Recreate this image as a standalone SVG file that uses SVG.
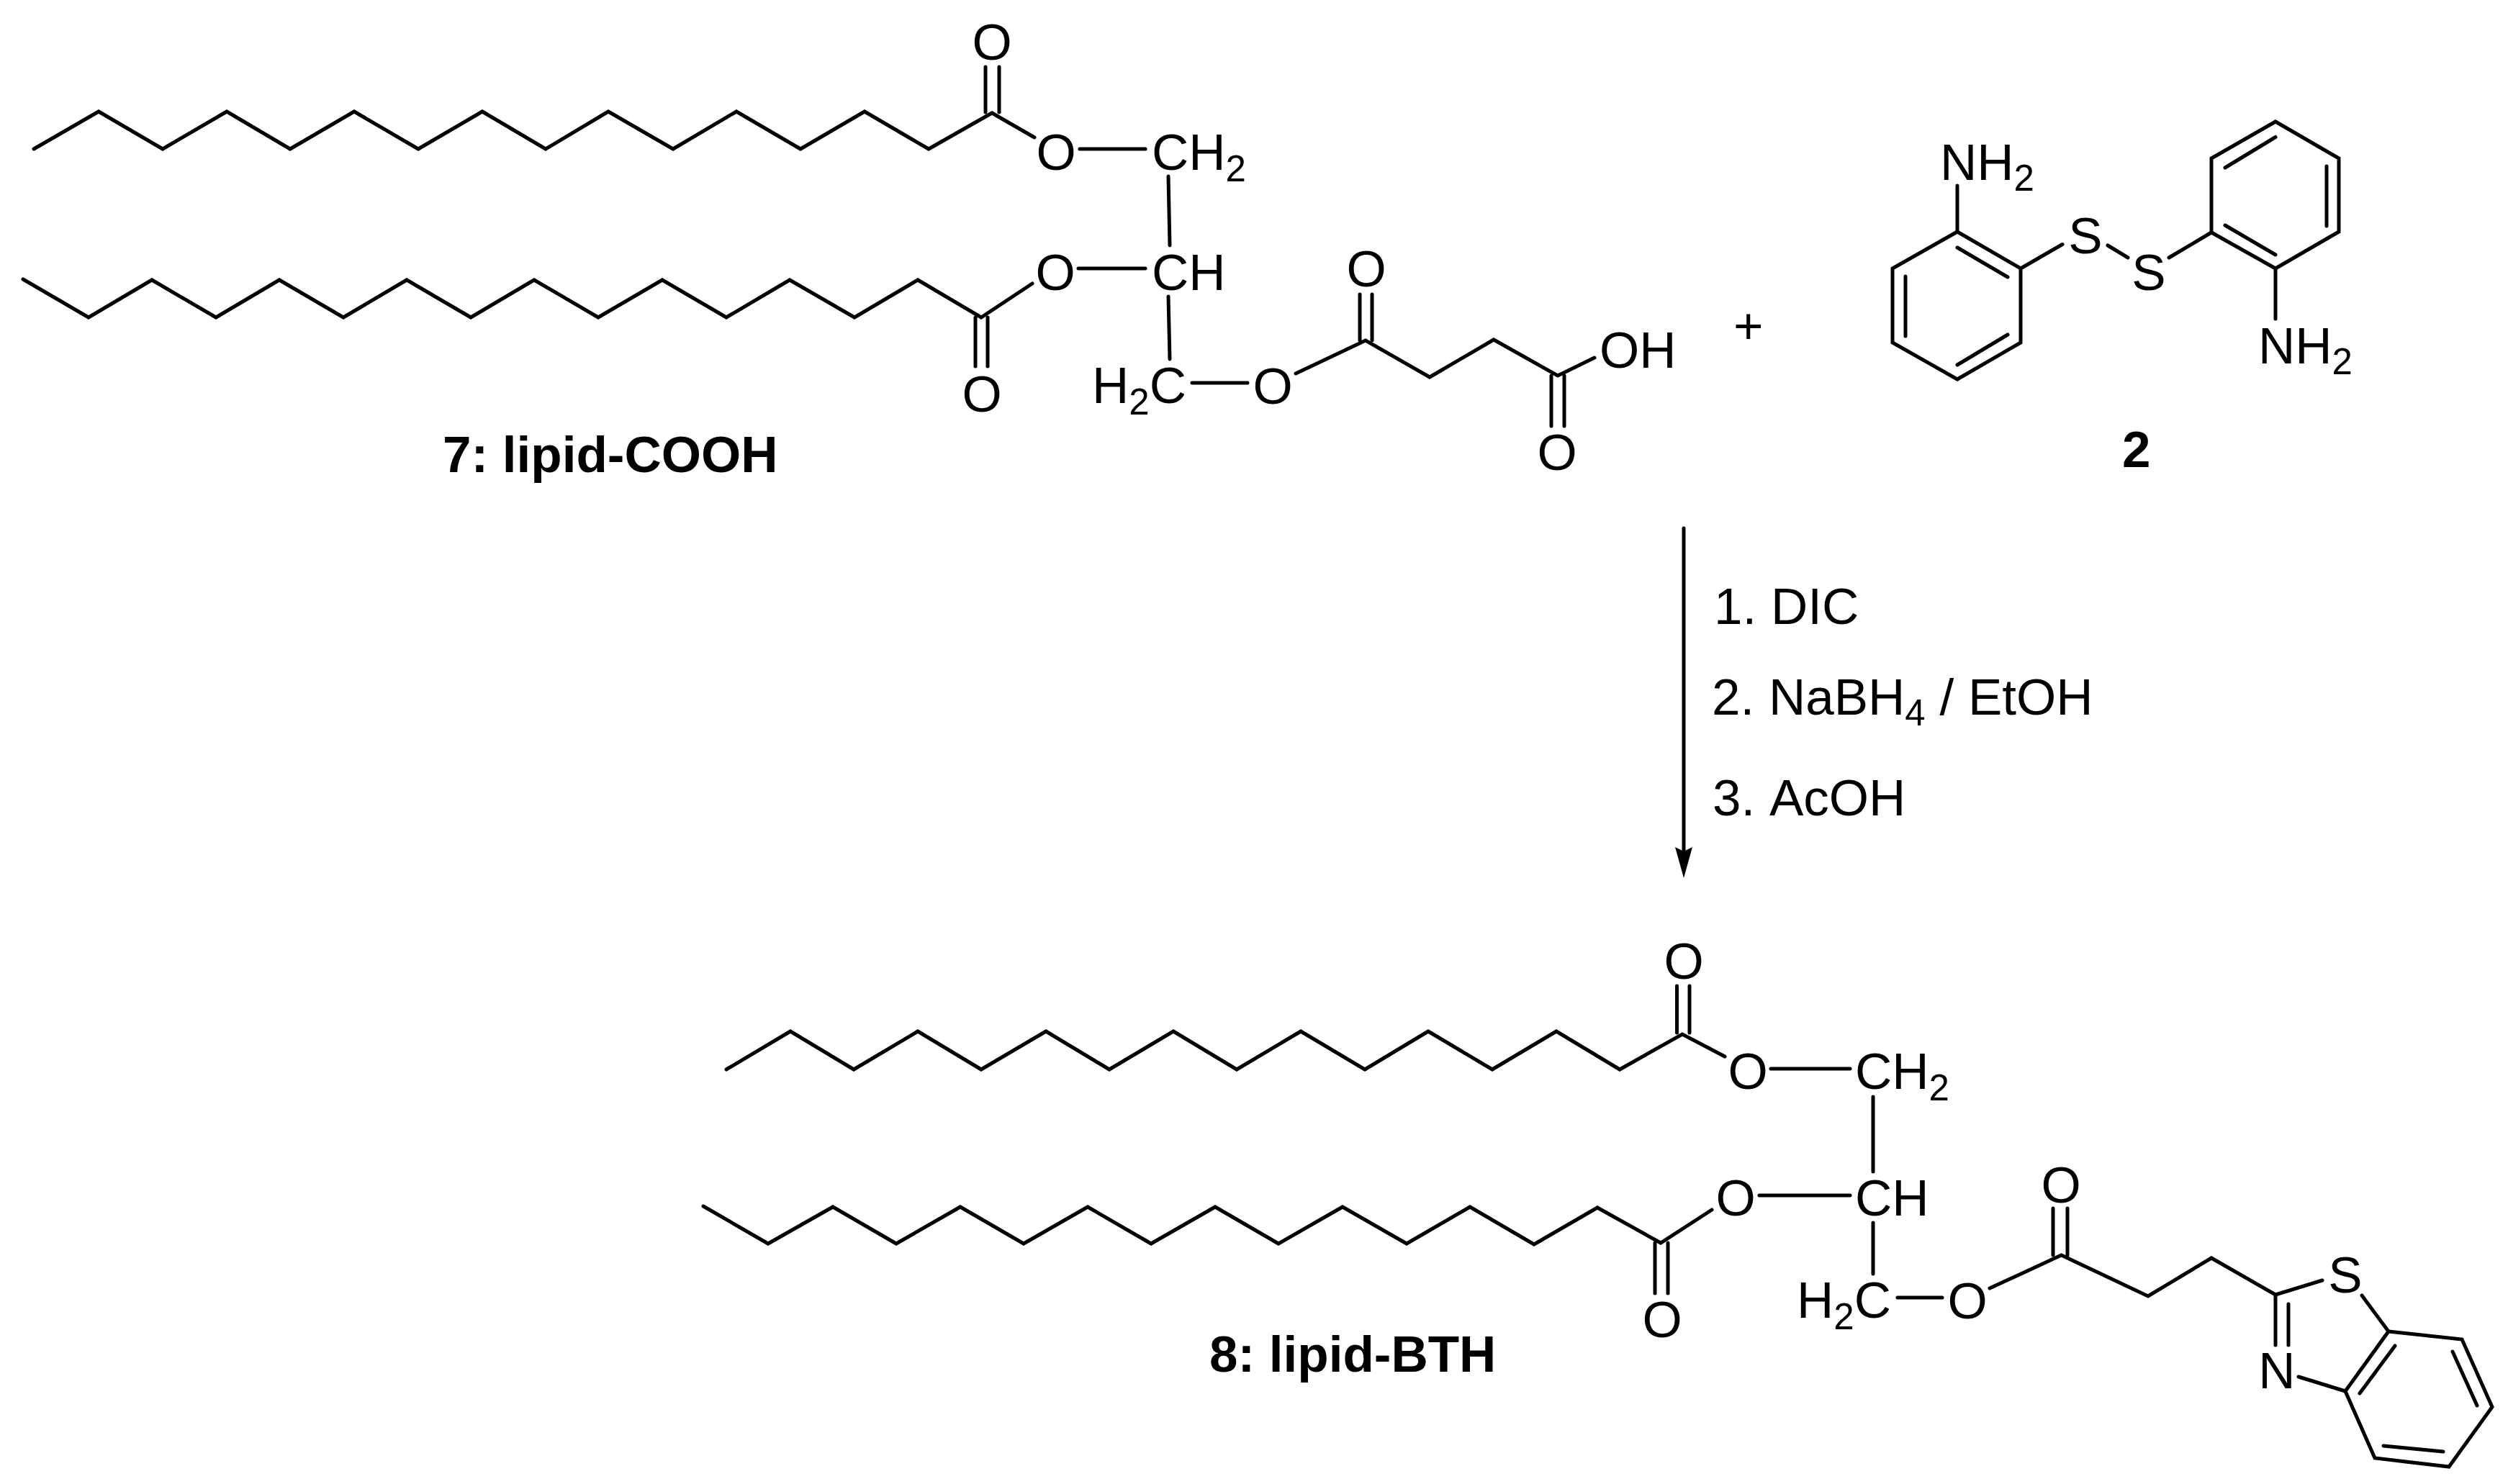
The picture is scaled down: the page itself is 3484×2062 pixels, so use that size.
<svg xmlns="http://www.w3.org/2000/svg" width="3484" height="2062" viewBox="0 0 3484 2062">
<defs>
<marker id="head" markerUnits="userSpaceOnUse" markerWidth="43" markerHeight="24" refX="18" refY="12" orient="auto" viewBox="0 0 43 24"><path d="M0,0 L6,12 L0,24 L43,12 Z" fill="#000"/></marker>
</defs>
<style>
.b{fill:none;stroke:#000;stroke-width:5;stroke-linejoin:miter;stroke-linecap:round}
text{font-family:"Liberation Sans",Arial,sans-serif;font-size:71px;fill:#000;font-kerning:none}
.c{text-anchor:middle}
.l{font-weight:700}
.s{font-size:51px}
</style>
<rect width="3484" height="2062" fill="#fff"/>
<g id="connectors">
<g id="lipid-cooh-bonds" class="b">
<path d="M47,207 137,155 226,207 315,155 403,207 492,155 581,207 670,155 758,207 845,155 935,207 1023,155 1112,207 1201,155 1290,207 1378,157 1437,191"/>
<path d="M1369,93V156M1388,93V156"/>
<path d="M1500,207H1591M1623,245L1625,341M1623,412L1625,499M1498,373H1591M1656,532L1733,532"/>
<path d="M32,388 123,441 211,389 300,441 388,389 477,441 565,389 654,441 742,389 831,441 920,389 1009,441 1097,389 1187,441 1275,389 1363,441 1434,394"/>
<path d="M1355,441V509M1372,441V509"/>
<path d="M1800,519 1897,473 1986,524 2075,472 2164,522 2215,497"/>
<path d="M1889,409V473M1906,409V473M2155,522V592M2173,522V592"/>
</g>
<g id="aminophenyl-disulfide-bonds" class="b">
<path d="M2719,322 2807,373 2807,476 2719,527 2629,476 2629,373Z"/>
<path d="M2719,344 2789,385M2647,384V467M2789,465 2719,507M2719,322V258"/>
<path d="M2807,373 2865,339.5M2928,341 2956,358M3013,358 3072,323"/>
<path d="M3072,323 3072,220 3161,169 3249,220 3249,322 3161,373Z"/>
<path d="M3091,233 3161,190.5M3232,231V314M3091,313 3161,354M3161,373V443"/>
</g>
<g id="lipid-bth-bonds" class="b">
<path d="M1009,1486 1098,1433 1186,1486 1275,1433 1363,1486 1453,1433 1541,1486 1630,1433 1718,1486 1807,1433 1896,1486 1984,1433 2073,1486 2162,1433 2250,1486 2337,1437 2396,1468"/>
<path d="M2329.5,1370V1435M2347,1370V1435"/>
<path d="M2460,1485H2570M2602,1524V1628M2444,1661H2570M2602,1699V1770M2636,1803H2698"/>
<path d="M977,1676 1067,1728 1157,1677 1245,1728 1334,1677 1422,1728 1511,1677 1599,1728 1688,1677 1776,1728 1865,1677 1954,1728 2042,1677 2131,1729 2219,1678 2307,1727 2378,1681"/>
<path d="M2299,1727V1797M2317,1727V1797"/>
<path d="M2764,1790 2863.5,1744 2984,1801 3072,1748 3161,1799 3226,1779"/>
<path d="M2852,1679V1744M2872,1679V1744M3161,1799V1869M3179,1812V1869"/>
<path d="M3193,1913 3258,1933M3281,1800 3318,1850"/>
<path d="M3318,1850 3420,1861 3462,1955 3402,2038 3299,2026 3258,1933Z"/>
<path d="M3327,1870 3278,1936M3407,1878 3441,1953M3311,2009 3394,2017"/>
</g>
<path id="reaction-arrow" d="M2339,734V1195" class="b" marker-end="url(#head)"/>
</g>
<g id="lipid-cooh">
<text class="c" x="1378" y="83">O</text>
<text class="c" x="1467" y="236">O</text>
<text x="1600" y="236">CH<tspan class="s" dy="16">2</tspan></text>
<text class="c" x="1466" y="403">O</text>
<text x="1600" y="403">CH</text>
<text class="c" x="1364" y="572">O</text>
<text x="1517" y="560">H<tspan class="s" dy="16">2</tspan><tspan dy="-16">C</tspan></text>
<text class="c" x="1768" y="561">O</text>
<text class="c" x="1898" y="398">O</text>
<text class="c" x="2163" y="653">O</text>
<text x="2222" y="511">OH</text>
<text class="l" x="615" y="656">7: lipid-COOH</text>
</g>
<g id="plus"><text x="2408" y="477">+</text></g>
<g id="aminophenyl-disulfide">
<text x="2695" y="250">NH<tspan class="s" dy="15">2</tspan></text>
<text class="c" x="2897" y="352">S</text>
<text class="c" x="2985" y="403">S</text>
<text x="3137" y="505">NH<tspan class="s" dy="15">2</tspan></text>
<text class="l" x="2948" y="649">2</text>
</g>
<g id="conditions">
<text x="2381" y="867">1. DIC</text>
<text x="2378" y="993">2. NaBH<tspan class="s" dy="15">4</tspan><tspan dy="-15"> / EtOH</tspan></text>
<text x="2379" y="1133">3. AcOH</text>
</g>
<g id="lipid-bth">
<text class="c" x="2339" y="1360">O</text>
<text class="c" x="2428" y="1513">O</text>
<text x="2577" y="1513">CH<tspan class="s" dy="16">2</tspan></text>
<text class="c" x="2411" y="1689">O</text>
<text x="2577" y="1689">CH</text>
<text class="c" x="2309" y="1858">O</text>
<text x="2496" y="1831">H<tspan class="s" dy="16">2</tspan><tspan dy="-16">C</tspan></text>
<text class="c" x="2733" y="1832">O</text>
<text class="c" x="2863" y="1671">O</text>
<text class="c" x="3258" y="1796">S</text>
<text class="c" x="3163" y="1929">N</text>
<text class="l" x="1680" y="1906">8: lipid-BTH</text>
</g>
</svg>
